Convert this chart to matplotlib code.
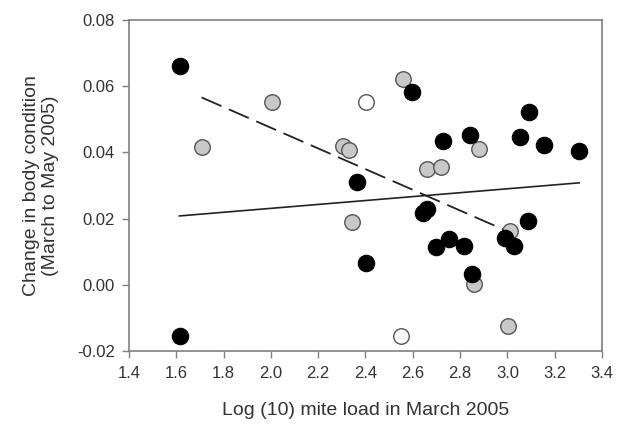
import numpy as np
import matplotlib as mpl
mpl.use('Agg')
from matplotlib import pyplot as plt

plt.rcParams['font.family'] = ['Liberation Sans', 'DejaVu Sans']

# black points
black_x = [1.616, 2.365, 2.402, 1.616, 2.595, 3.090, 2.729, 2.842, 3.052, 3.155, 3.304,
           2.659, 2.645, 3.087, 2.989, 3.028, 2.697, 2.752, 2.818, 2.850]
black_y = [0.0661, 0.0312, 0.0065, -0.0156, 0.0582, 0.0522, 0.0434, 0.0452, 0.0447, 0.0421, 0.0404,
           0.0228, 0.0216, 0.0194, 0.0140, 0.0116, 0.0113, 0.0137, 0.0118, 0.0033]

# grey points
grey_x = [2.006, 1.710, 2.305, 2.330, 2.560, 2.879, 2.659, 2.719, 2.344, 3.012, 2.860, 3.004]
grey_y = [0.0553, 0.0416, 0.0420, 0.0408, 0.0623, 0.0411, 0.0349, 0.0355, 0.0190, 0.0163, 0.0001, -0.0124]

# open points
open_x = [2.401, 2.549]
open_y = [0.0553, -0.0154]

# fitted lines
solid_x = [1.613, 3.304]
solid_y = [0.0208, 0.0308]
dash_x = [1.707, 2.99]
dash_y = [0.0566, 0.0165]

xticks = np.arange(1.4, 3.41, 0.2)
yticks = np.arange(-0.02, 0.081, 0.02)

fig = plt.figure(figsize=(6.22, 4.26), dpi=100)
ax = fig.add_axes([0.2074, 0.1761, 0.7604, 0.7770])

ax.plot(solid_x, solid_y, color='#222222', lw=1.2, zorder=2)
ax.plot(dash_x, dash_y, color='#222222', lw=1.3, ls=(0, (12, 4.5)), zorder=2)

ax.scatter(grey_x, grey_y, s=125, facecolor='#c8c8c8', edgecolor='#555555', linewidth=1.0, zorder=3)
ax.scatter(open_x, open_y, s=125, facecolor='white', edgecolor='#555555', linewidth=1.0, zorder=3)
ax.scatter(black_x, black_y, s=140, facecolor='black', edgecolor='black', linewidth=0.8, zorder=4)

ax.set_xlim(1.4, 3.4)
ax.set_ylim(-0.02, 0.08)
ax.set_xticks(xticks)
ax.set_yticks(yticks)
ax.set_xticklabels(['%.1f' % v for v in xticks])
ax.set_yticklabels(['%.2f' % v for v in yticks])

for sp in ax.spines.values():
    sp.set_color('#808080')
    sp.set_linewidth(1.2)
ax.tick_params(direction='out', length=5, width=1, color='#808080',
               labelsize=12, labelcolor='#333333')
ax.tick_params(axis='x', pad=6)
ax.tick_params(axis='y', pad=5)

ax.set_xlabel('Log (10) mite load in March 2005', fontsize=14, color='#333333', labelpad=15)
ax.set_ylabel('Change in body condition\n(March to May 2005)', fontsize=14, color='#333333',
              labelpad=13, linespacing=1.15)

fig.savefig('out.png', dpi=100)
